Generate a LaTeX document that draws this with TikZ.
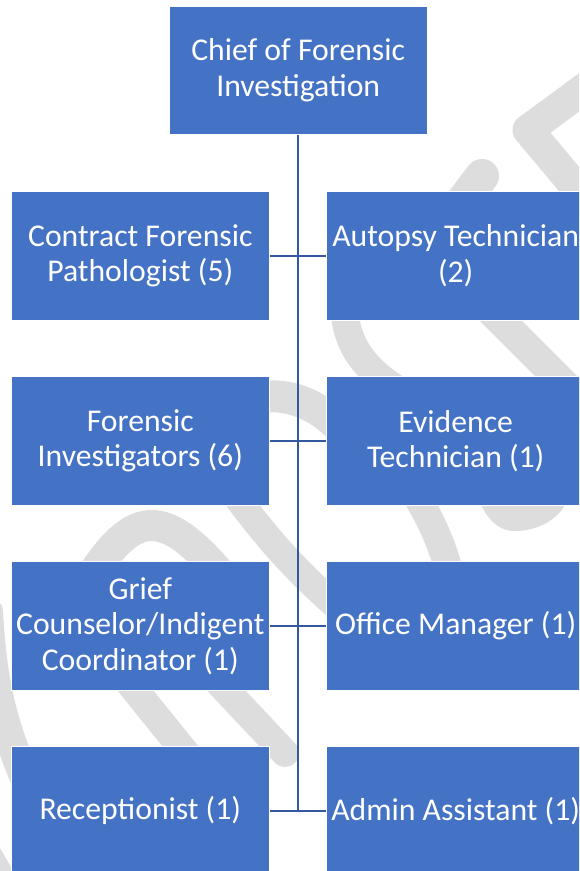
\documentclass[tikz,border=0pt]{standalone}
\usepackage{fontspec}
\setmainfont{Carlito}
\definecolor{boxblue}{HTML}{4472C4}
\definecolor{linkblue}{RGB}{52,88,160}
\definecolor{wmgray}{HTML}{DDDDDD}
\begin{document}
\begin{tikzpicture}[x=1pt,y=-1pt,
  wm/.style={draw=wmgray, line cap=round, line join=round},
  orgbox/.style={rectangle, fill=boxblue, draw=white, line width=0.8pt,
    minimum width=258.6pt, minimum height=128.3pt, inner sep=0pt,
    align=center, text=white, font=\fontsize{31.7}{35.5}\selectfont},
  link/.style={draw=linkblue, line width=2pt}]
\useasboundingbox (0,0) rectangle (579,871);
\clip (0,0) rectangle (579,871);
\fill[white] (0,0) rectangle (579,871);
% watermark
\draw[wm, line width=31pt] (600,77) -- (528,130) -- (600,216);
\draw[wm, line width=34pt] (482,176) -- (420,258);
\draw[wm, line width=28pt] (344,300) .. controls (344,340) and (360,365) .. (395,388);
\draw[wm, line width=30pt] (480,300) -- (610,430);
\draw[wm, line width=32pt] (255,398) .. controls (285,392) and (315,402) .. (340,428);
\draw[wm, line width=31pt] (90,578) .. controls (135,508) and (165,508) .. (224,578);
\draw[wm, line width=27pt] (235,495) .. controls (265,535) and (290,565) .. (335,605);
\draw[wm, line width=28pt] (410,485) .. controls (425,510) and (440,535) .. (450,575);
\fill[wmgray] (476,490) -- (482,507) .. controls (492,525) and (502,531) .. (515,531)
  .. controls (535,531) and (555,522) .. (565,505) -- (570,490) -- cycle;
\draw[wm, line width=28pt] (110,659) -- (210,783);
\draw[wm, line width=28pt] (190,652) -- (285,753);
\draw[wm, line width=30pt] (-12,612) .. controls (-8,680) and (0,720) .. (30,790);
\draw[wm, line width=16pt] (-8,850) -- (12,885);
% boxes
\node[orgbox] (top) at (298.2,70.2) {Chief of Forensic\\Investigation};
\node[orgbox] (l1) at (140.3,255.8) {Contract Forensic\\Pathologist (5)};
\node[orgbox] (r1) at (455.7,255.8) {Autopsy Technician\\(2)};
\node[orgbox] (l2) at (140.3,441) {Forensic\\Investigators (6)};
\node[orgbox] (r2) at (455.7,441) {Evidence\\Technician (1)};
\node[orgbox] (l3) at (140.3,626) {Grief\\Counselor/Indigent\\Coordinator (1)};
\node[orgbox] (r3) at (455.7,626) {Office Manager (1)};
\node[orgbox] (l4) at (140.3,810.8) {Receptionist (1)};
\node[orgbox] (r4) at (455.7,810.8) {Admin Assistant (1)};
% connectors
\draw[link] (top.south) -- (top.south |- l4.east);
\foreach \i in {1,2,3,4} {
  \draw[link] (l\i.east) -- (r\i.west);
}
\end{tikzpicture}
\end{document}
